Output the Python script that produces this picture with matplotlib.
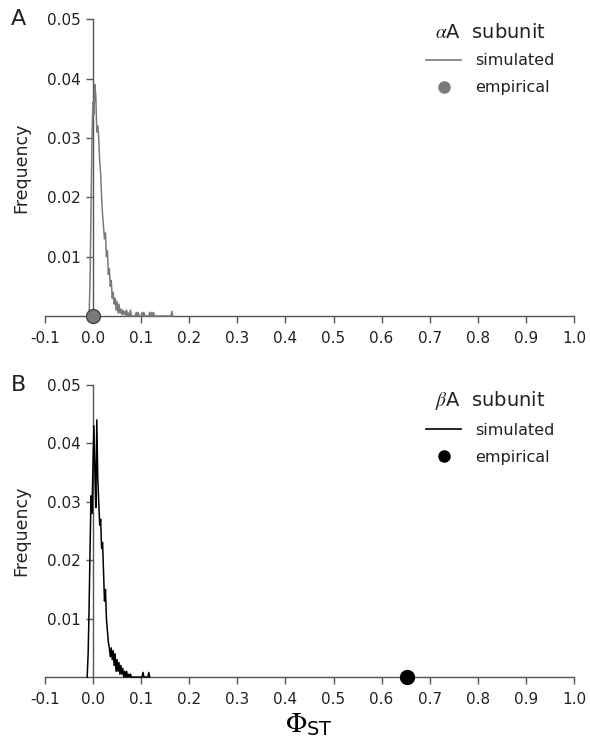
import matplotlib
matplotlib.use('Agg')
import matplotlib.pyplot as plt
from matplotlib.lines import Line2D

plt.rcParams['mathtext.fontset'] = 'stix'
plt.rcParams['font.family'] = ['DejaVu Sans']

# ---- data ----
# panel A: alphaA subunit, simulated distribution of PhiST
phi_a = [-0.008, -0.006, -0.004, -0.002, 0.000, 0.002, 0.004, 0.006, 0.008, 0.010,
         0.012, 0.014, 0.016, 0.018, 0.020, 0.022, 0.024, 0.026, 0.028, 0.030,
         0.032, 0.034, 0.036, 0.038, 0.040, 0.042, 0.044, 0.046, 0.048, 0.050,
         0.052, 0.054, 0.056, 0.058, 0.060, 0.062, 0.064, 0.066, 0.068, 0.070,
         0.072, 0.074, 0.076, 0.078, 0.080, 0.088, 0.090, 0.092, 0.094, 0.096,
         0.100, 0.102, 0.104, 0.106, 0.108, 0.110, 0.116, 0.118, 0.120, 0.122,
         0.124, 0.126, 0.128, 0.162, 0.164, 0.166]
freq_a = [0.0, 0.006, 0.018, 0.030, 0.036, 0.034, 0.039, 0.037, 0.031, 0.032,
          0.030, 0.026, 0.024, 0.020, 0.017, 0.015, 0.013, 0.014, 0.010, 0.011,
          0.007, 0.008, 0.005, 0.006, 0.003, 0.004, 0.002, 0.003, 0.001, 0.0025,
          0.0005, 0.002, 0.0005, 0.0012, 0.0002, 0.001, 0.0003, 0.0008, 0.0, 0.001,
          0.0, 0.0005, 0.0, 0.001, 0.0, 0.0, 0.0006, 0.0, 0.0006, 0.0,
          0.0, 0.0006, 0.0, 0.0006, 0.0, 0.0, 0.0, 0.0006, 0.0, 0.0006,
          0.0, 0.0006, 0.0, 0.0, 0.0008, 0.0]
emp_a = 0.0

# panel B: betaA subunit
phi_b = [-0.012, -0.010, -0.008, -0.006, -0.004, -0.002, 0.000, 0.002, 0.004, 0.006,
         0.008, 0.010, 0.012, 0.014, 0.016, 0.018, 0.020, 0.022, 0.024, 0.026,
         0.028, 0.030, 0.032, 0.034, 0.036, 0.038, 0.040, 0.042, 0.044, 0.046,
         0.048, 0.050, 0.052, 0.054, 0.056, 0.058, 0.060, 0.062, 0.064, 0.066,
         0.068, 0.070, 0.072, 0.074, 0.076, 0.078, 0.080, 0.102, 0.104, 0.106,
         0.114, 0.116, 0.118]
freq_b = [0.0, 0.004, 0.012, 0.022, 0.031, 0.028, 0.036, 0.043, 0.035, 0.029,
          0.044, 0.034, 0.030, 0.026, 0.027, 0.022, 0.023, 0.018, 0.013, 0.015,
          0.010, 0.008, 0.006, 0.005, 0.0035, 0.005, 0.003, 0.0045, 0.002, 0.004,
          0.001, 0.003, 0.001, 0.0025, 0.0005, 0.002, 0.0005, 0.0015, 0.0, 0.001,
          0.0, 0.001, 0.0, 0.0005, 0.0, 0.0005, 0.0, 0.0, 0.0008, 0.0,
          0.0, 0.0008, 0.0]
emp_b = 0.652

xticks = [-0.1, 0.0, 0.1, 0.2, 0.3, 0.4, 0.5, 0.6, 0.7, 0.8, 0.9, 1.0]
yticks = [0.01, 0.02, 0.03, 0.04, 0.05]

spine_c = '#555555'

def setup_axes(ax):
    ax.set_xlim(-0.1, 1.0)
    ax.set_ylim(0, 0.05)
    ax.spines['left'].set_position(('data', 0.0))
    ax.spines['top'].set_visible(False)
    ax.spines['right'].set_visible(False)
    for s in ('left', 'bottom'):
        ax.spines[s].set_color(spine_c)
        ax.spines[s].set_linewidth(1.0)
    ax.set_xticks(xticks)
    ax.set_xticklabels(['{:.1f}'.format(v) for v in xticks])
    ax.set_yticks(yticks)
    ax.set_yticklabels(['{:.2f}'.format(v) for v in yticks])
    ax.tick_params(direction = 'out', length = 5, width = 1.0, color = spine_c,
                   labelsize = 11, labelcolor = '#222222')
    ax.tick_params(axis = 'x', pad = 6)
    ax.set_ylabel('Frequency', fontsize = 12.5, color = '#222222')
    ax.yaxis.set_label_coords(-0.028, 0.5)

fig = plt.figure(figsize = (5.9, 7.4), dpi = 100)
ax1 = fig.add_axes([0.076, 0.573, 0.897, 0.401])
ax2 = fig.add_axes([0.076, 0.085, 0.897, 0.395])

panels = [
    (ax1, phi_a, freq_a, emp_a, '#7a7a7a', '#444444', r'$\alpha$A  subunit', 'A'),
    (ax2, phi_b, freq_b, emp_b, '#000000', '#000000', r'$\beta$A  subunit', 'B'),
]
for ax, x, y, emp, c, ec, title, letter in panels:
    setup_axes(ax)
    ax.plot(x, y, color = c, linewidth = 1.1, clip_on = False, zorder = 3)
    ax.plot([emp], [0.0], 'o', markersize = 10, color = c, markeredgecolor = ec,
            markeredgewidth = 1.0, clip_on = False, zorder = 4)
    handles = [Line2D([], [], color = c, linewidth = 1.2),
               Line2D([], [], marker = 'o', linestyle = 'None', markersize = 8, color = c)]
    leg = ax.legend(handles, ['simulated', 'empirical'], title = title, frameon = False,
                    loc = 'upper right', bbox_to_anchor = (0.985, 1.025), fontsize = 11.5,
                    title_fontsize = 14, handlelength = 2.2, handletextpad = 0.9,
                    labelspacing = 0.75, borderaxespad = 0.3)
    leg._legend_box.sep = 8
    for t in leg.get_texts():
        t.set_color('#222222')
    leg.get_title().set_color('#222222')
    ax.text(-0.035, 1.0, letter, transform = ax.transAxes, fontsize = 16,
            ha = 'right', va = 'center', color = '#222222')

ax2.set_xlabel(r'$\Phi_{\mathregular{ST}}$', fontsize = 20, labelpad = 2)

plt.savefig('out.png', dpi = 100)
